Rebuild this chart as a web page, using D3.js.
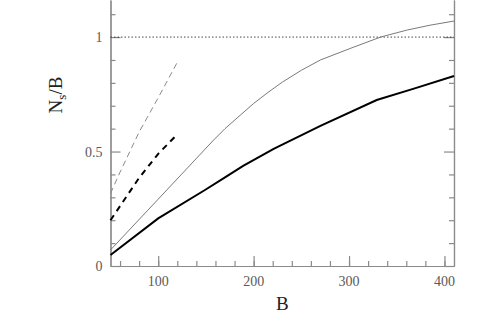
<!DOCTYPE html>
<html>
<head>
<meta charset="utf-8">
<script src="https://cdn.jsdelivr.net/npm/d3@7"></script>
<style>
  body { margin: 0; background: #fff; }
  svg text { font-family: "Liberation Serif", "DejaVu Serif", serif; }
</style>
</head>
<body>
<svg id="chart"></svg>
<script>
const w = 491;
const h = 321;

// thin grey solid curve
const graySolidB = [50, 100, 158, 170, 186, 200, 215, 230, 250, 270, 301, 333, 361, 385, 410];
const graySolidV = [0.07, 0.292, 0.55, 0.60, 0.659, 0.71, 0.758, 0.803, 0.855, 0.90, 0.95, 1.0, 1.031, 1.052, 1.07];

// thick black solid curve
const blackSolidB = [50, 100, 149, 170, 189, 221, 270, 329, 368, 410];
const blackSolidV = [0.048, 0.208, 0.332, 0.387, 0.437, 0.512, 0.612, 0.725, 0.775, 0.83];

// thin grey dashed
const grayDashB = [50, 60, 80, 100, 120];
const grayDashV = [0.317, 0.41, 0.585, 0.735, 0.89];

// thick black dashed
const blackDashB = [50, 80, 100, 120];
const blackDashV = [0.20, 0.385, 0.49, 0.575];

const xTickLabels = [100, 200, 300, 400];
const yTickLabels = [0, 0.5, 1];

const margin = {left: 110.5, right: 491 - 454, top: 0, bottom: 321 - 266};

const svg = d3.select("#chart")
  .attr("width", w)
  .attr("height", h)
  .attr("viewBox", [0, 0, w, h]);

const x = d3.scaleLinear()
  .domain([50, 410])
  .range([margin.left, w - margin.right]);

const y = d3.scaleLinear()
  .domain([0, 1.162])
  .range([h - margin.bottom, margin.top]);

const axisColor = "#8a8a8a";
const labelColor = "#5a5a5a";

// axes (ticks pointing inward)
function styleAxis(g) {
  g.select(".domain").attr("stroke", axisColor).attr("stroke-width", 1.2);
  g.selectAll(".tick line").attr("stroke", axisColor).attr("stroke-width", 1.2);
  g.selectAll("text").attr("fill", labelColor).attr("font-size", 14);
}

const xMinor = d3.range(60, 410, 20);
const yMinor = d3.range(0.1, 1.16, 0.1).filter(v => Math.abs(v - 0.5) > 1e-6 && Math.abs(v - 1) > 1e-6);

svg.append("g")
  .attr("transform", `translate(0,${y(0)})`)
  .call(d3.axisTop(x).tickValues(xMinor).tickSize(5).tickFormat("").tickSizeOuter(0))
  .call(styleAxis);

svg.append("g")
  .attr("transform", `translate(0,${y(0)})`)
  .call(d3.axisTop(x).tickValues(xTickLabels).tickSize(10).tickFormat("").tickSizeOuter(0))
  .call(styleAxis);

svg.append("g")
  .selectAll("text")
  .data(xTickLabels)
  .join("text")
  .attr("x", d => x(d))
  .attr("y", y(0) + 20)
  .attr("text-anchor", "middle")
  .attr("fill", labelColor)
  .attr("font-size", 14)
  .text(d => d);

// left axis
svg.append("g")
  .attr("transform", `translate(${x(50)},0)`)
  .call(d3.axisRight(y).tickValues(yMinor).tickSize(5).tickFormat("").tickSizeOuter(0))
  .call(styleAxis);
svg.append("g")
  .attr("transform", `translate(${x(50)},0)`)
  .call(d3.axisRight(y).tickValues(yTickLabels).tickSize(10).tickFormat("").tickSizeOuter(0))
  .call(styleAxis);

// right axis
svg.append("g")
  .attr("transform", `translate(${x(410)},0)`)
  .call(d3.axisLeft(y).tickValues(yMinor).tickSize(5).tickFormat("").tickSizeOuter(0))
  .call(styleAxis);
svg.append("g")
  .attr("transform", `translate(${x(410)},0)`)
  .call(d3.axisLeft(y).tickValues(yTickLabels).tickSize(10).tickFormat("").tickSizeOuter(0))
  .call(styleAxis);

svg.append("g")
  .selectAll("text")
  .data(yTickLabels)
  .join("text")
  .attr("x", x(50) - 8)
  .attr("y", d => y(d) + 5)
  .attr("text-anchor", "end")
  .attr("fill", labelColor)
  .attr("font-size", 14)
  .text(d => d);

// reference line at 1
svg.append("line")
  .attr("x1", x(50))
  .attr("x2", x(410))
  .attr("y1", y(1))
  .attr("y2", y(1))
  .attr("stroke", "#333")
  .attr("stroke-width", 0.9)
  .attr("stroke-dasharray", "1.5,2");

const line = d3.line()
  .x(d => x(d[0]))
  .y(d => y(d[1]));

function drawCurve(bs, vs, stroke, width, dash) {
  svg.append("path")
    .datum(d3.zip(bs, vs))
    .attr("d", line)
    .attr("fill", "none")
    .attr("stroke", stroke)
    .attr("stroke-width", width)
    .attr("stroke-dasharray", dash);
}

drawCurve(graySolidB, graySolidV, "#7a7a7a", 1, null);
drawCurve(blackSolidB, blackSolidV, "#000", 2, null);
drawCurve(grayDashB, grayDashV, "#8a8a8a", 1, "6,4");
drawCurve(blackDashB, blackDashV, "#000", 2, "6,5");

// axis labels
svg.append("text")
  .attr("x", (x(50) + x(410)) / 2)
  .attr("y", 310)
  .attr("text-anchor", "middle")
  .attr("font-size", 19)
  .attr("fill", "#222")
  .text("B");

const yl = svg.append("text")
  .attr("transform", `translate(62,95) rotate(-90)`)
  .attr("text-anchor", "middle")
  .attr("font-size", 19)
  .attr("fill", "#222");
yl.append("tspan").text("N");
yl.append("tspan").attr("font-size", 13).attr("dy", 4).text("s");
yl.append("tspan").attr("dy", -4).text("/B");
</script>
</body>
</html>
